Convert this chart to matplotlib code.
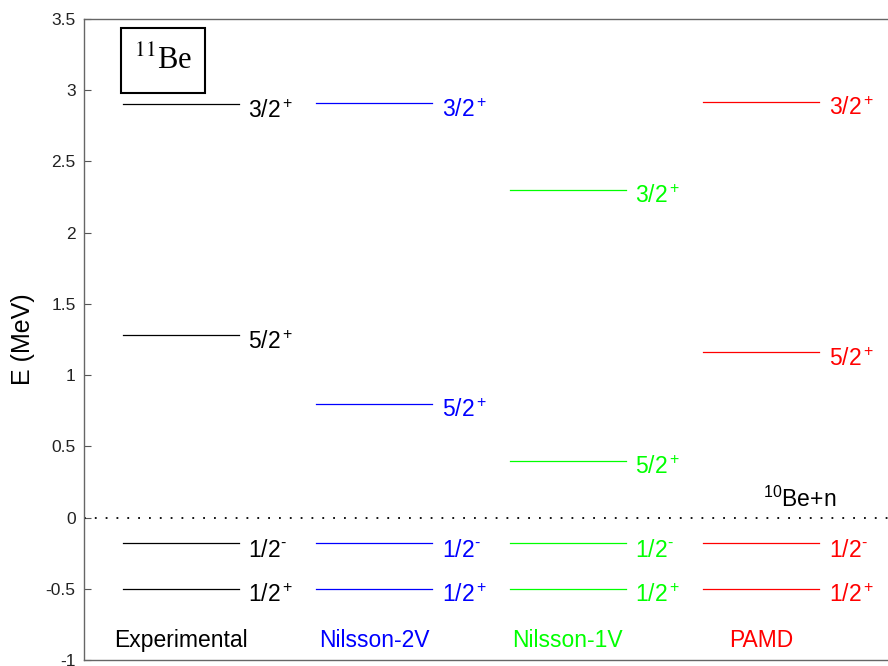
import matplotlib
matplotlib.use('Agg')
import matplotlib.pyplot as plt
from matplotlib.patches import Rectangle

plt.rcParams['font.family'] = ['Liberation Sans', 'DejaVu Sans']
plt.rcParams['mathtext.fontset'] = 'custom'
plt.rcParams['mathtext.rm'] = 'Liberation Sans'
plt.rcParams['mathtext.it'] = 'Liberation Sans:italic'
plt.rcParams['mathtext.bf'] = 'Liberation Sans:bold'
plt.rcParams['axes.unicode_minus'] = False

models = ['Experimental', 'Nilsson-2V', 'Nilsson-1V', 'PAMD']
colors = ['black', 'blue', '#00ff00', 'red']
states = ['1/2$^+$', '1/2$^{\\text{-}}$', '5/2$^+$', '3/2$^+$']

exp_levels = [-0.50, -0.18, 1.28, 2.90]
n2v_levels = [-0.50, -0.18, 0.80, 2.91]
n1v_levels = [-0.50, -0.18, 0.40, 2.30]
pamd_levels = [-0.50, -0.18, 1.16, 2.92]
all_levels = [exp_levels, n2v_levels, n1v_levels, pamd_levels]

yticks = [-1, -0.5, 0, 0.5, 1, 1.5, 2, 2.5, 3, 3.5]
ytick_labels = ['-1', '-0.5', '0', '0.5', '1', '1.5', '2', '2.5', '3', '3.5']

threshold = 0.0
threshold_label = '$^{10}$Be+n'

fig = plt.figure(figsize=(8.88, 6.66), dpi=100)
ax = fig.add_axes([0.0946, 0.009, 0.9054, 0.9625])

half = 0.3
for i, (levels, col) in enumerate(zip(all_levels, colors)):
    xc = i + 1
    for e, s in zip(levels, states):
        ax.plot([xc - half, xc + half], [e, e], color=col, lw=0.9)
        ax.text(xc + half + 0.05, e - 0.095, s, color=col, fontsize=16.5,
                ha='left', va='baseline')
    ax.text(xc, -0.91, models[i], color=col, fontsize=16.5,
            ha='center', va='baseline')

# neutron threshold
ax.axhline(threshold, color='black', lw=1.3, linestyle=(0, (1, 5)))
ax.text(4.01, threshold + 0.074, threshold_label, fontsize=16.5,
        ha='left', va='baseline')

# nucleus label box
ax.add_patch(Rectangle((0.046, 0.8846), 0.1045, 0.1014, transform=ax.transAxes,
                       fill=False, ec='black', lw=1.5))
ax.text(0.098, 0.934, '$^{11}$Be', transform=ax.transAxes, fontsize=22,
        family='Liberation Serif', math_fontfamily='stix',
        ha='center', va='center')

ax.set_xlim(0.5, 4.655)
ax.set_ylim(-1, 3.5)
ax.set_yticks(yticks)
ax.set_yticklabels(ytick_labels, fontsize=12.5)
ax.set_xticks([])
ax.tick_params(axis='y', direction='in', length=5, pad=6, colors='#555555',
               labelcolor='#222222')
ax.set_ylabel('E (MeV)', fontsize=18, labelpad=8)
for side in ['left', 'top', 'bottom']:
    ax.spines[side].set_color('#666666')
    ax.spines[side].set_linewidth(1.0)
ax.spines['right'].set_visible(False)

fig.savefig('out.png', dpi=100)
